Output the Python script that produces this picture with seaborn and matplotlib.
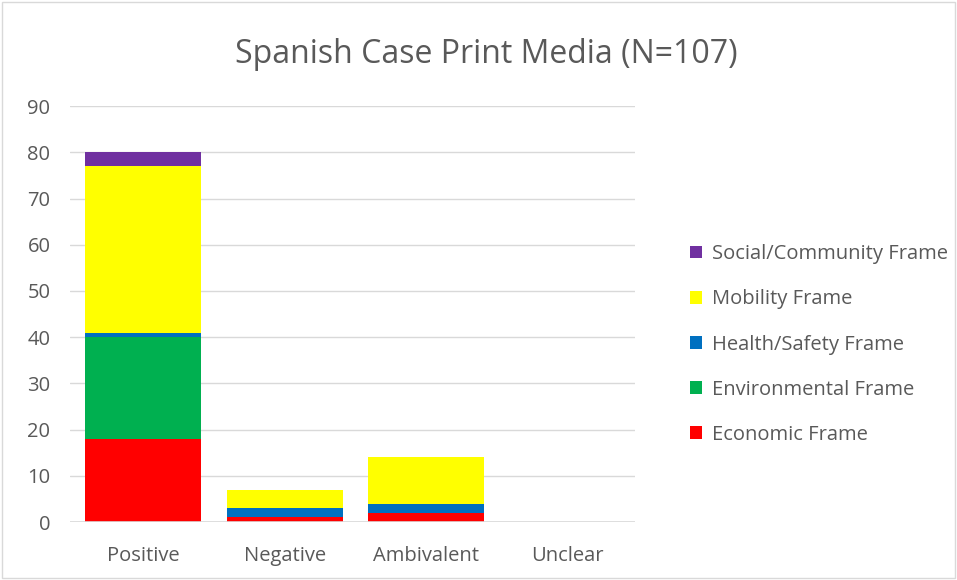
import matplotlib
matplotlib.use("Agg")
import matplotlib.pyplot as plt
import seaborn as sns
import pandas as pd
import numpy as np
from matplotlib.patches import Rectangle

categories = ["Positive", "Negative", "Ambivalent", "Unclear"]
economic = [18, 1, 2, 0]
environmental = [22, 0, 0, 0]
health_safety = [1, 2, 2, 0]
mobility = [36, 4, 10, 0]
social = [3, 0, 0, 0]

series_names = ["Economic Frame", "Environmental Frame", "Health/Safety Frame",
                "Mobility Frame", "Social/Community Frame"]
series_values = [economic, environmental, health_safety, mobility, social]
colors = ["#FF0000", "#00B050", "#0070C0", "#FFFF00", "#7030A0"]

sns.set_theme(style="white")
plt.rcParams['font.family'] = ['Open Sans', 'DejaVu Sans']

fig = plt.figure(figsize=(9.57, 5.8), dpi=100)
ax = fig.add_axes([0.073, 0.1, 0.591, 0.717])

bottom = np.zeros(len(categories))
for name, vals, col in zip(series_names, series_values, colors):
    df = pd.DataFrame({"cat": categories, "val": vals})
    sns.barplot(data=df, x="cat", y="val", color=col, ax=ax, width=0.82,
                bottom=bottom, saturation=1, linewidth=0, label=name, zorder=3,
                legend=False)
    bottom = bottom + np.array(vals)

if ax.get_legend() is not None:
    ax.get_legend().remove()

ax.set_ylim(0, 90)
ax.set_xlim(-0.52, 3.48)
ax.set_yticks(range(0, 91, 10))
ax.yaxis.grid(True, color="#D9D9D9", linewidth=1, zorder=0)
for s in ax.spines.values():
    s.set_visible(False)
ax.axhline(0, color="#D9D9D9", linewidth=1.2, zorder=4)
ax.set_xlabel("")
ax.set_ylabel("")
ax.tick_params(axis="both", length=0, labelsize=14.5, colors="#595959")
ax.tick_params(axis="x", pad=17)
ax.tick_params(axis="y", pad=14)

h, l = ax.get_legend_handles_labels()
leg = fig.legend(h[::-1], l[::-1], loc="center left", bbox_to_anchor=(0.702, 0.406),
                 frameon=False, fontsize=14.5, labelcolor="#595959",
                 handlelength=0.6, handleheight=0.6, handletextpad=0.5,
                 labelspacing=1.25)

fig.suptitle("Spanish Case Print Media (N=107)", x=0.508, y=0.935, fontsize=23,
             color="#595959")

fig.patches.append(Rectangle((0.002, 0.003), 0.996, 0.994, transform=fig.transFigure,
                             fill=False, edgecolor="#D9D9D9", linewidth=1))

fig.savefig("out.png", dpi=100)
